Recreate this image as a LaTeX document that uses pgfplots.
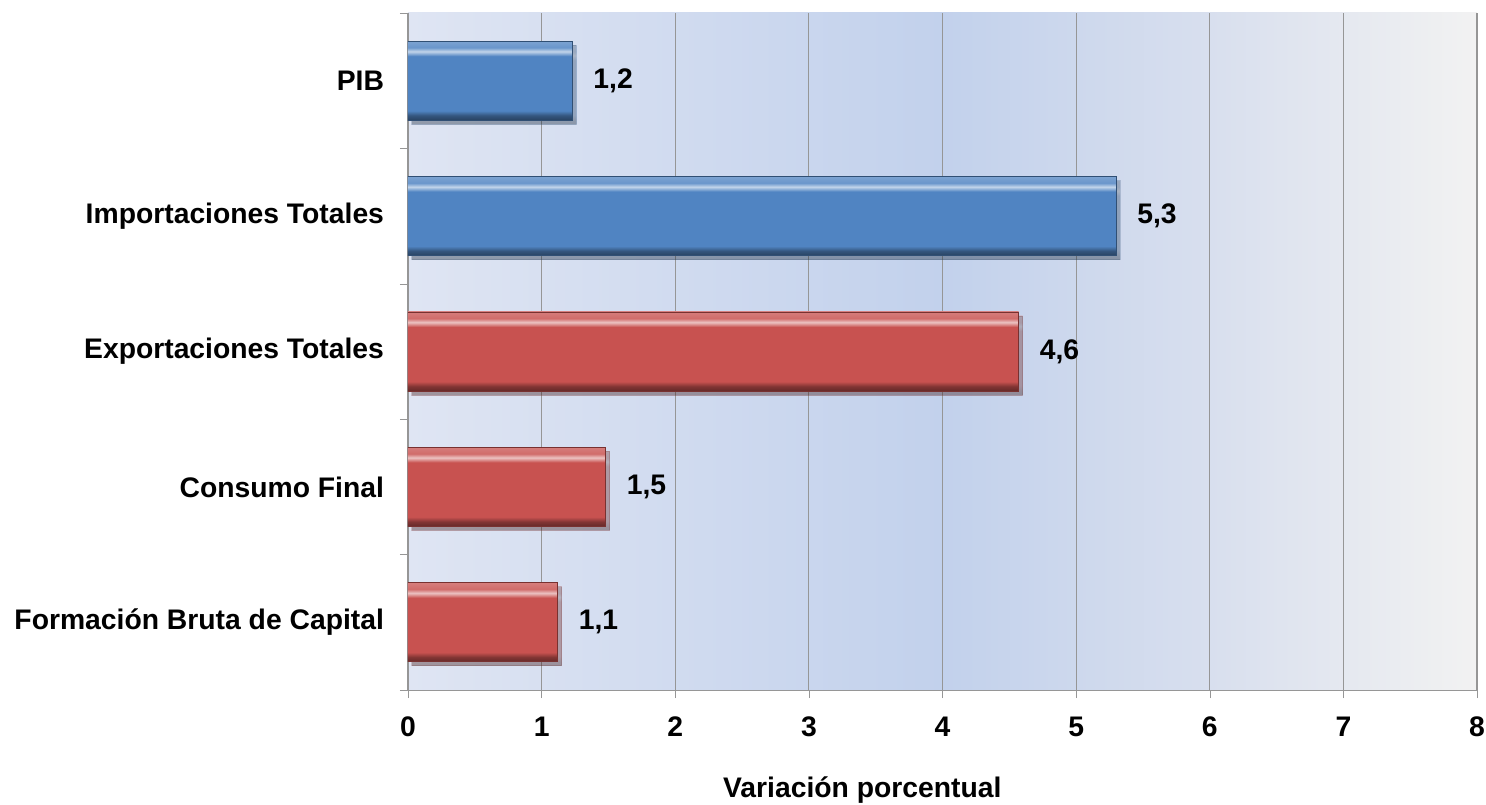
\documentclass[border=0pt]{standalone}
\usepackage{pgfplots}
\pgfplotsset{compat=1.18}
\usepackage{fontspec}
\setmainfont{Liberation Sans}

\definecolor{bmain}{RGB}{80,132,194}
\definecolor{rmain}{RGB}{200,82,80}
\definecolor{gridc}{RGB}{150,150,150}

% background: light blue, deepest around 4, fading to grey on the right
\pgfdeclarehorizontalshading{bgshade}{100bp}{%
  color(0bp)=(rgb,255:red,223;green,229;blue,243);
  color(25bp)=(rgb,255:red,223;green,229;blue,243);
  color(50bp)=(rgb,255:red,194;green,209;blue,236);
  color(62.5bp)=(rgb,255:red,216;green,223;blue,238);
  color(75bp)=(rgb,255:red,242;green,242;blue,242);
  color(100bp)=(rgb,255:red,242;green,242;blue,242)}

% bevel look for the bars (bottom dark, highlight near the top)
\pgfdeclareverticalshading{bluebar}{100bp}{%
  color(0bp)=(bmain!50!black);
  color(25bp)=(bmain!50!black);
  color(28bp)=(bmain!65!black);
  color(31bp)=(bmain);
  color(65.5bp)=(bmain);
  color(68.5bp)=(bmain!35!white);
  color(71bp)=(bmain!85!white);
  color(75bp)=(bmain!75!white);
  color(100bp)=(bmain!75!white)}
\pgfdeclareverticalshading{redbar}{100bp}{%
  color(0bp)=(rmain!50!black);
  color(25bp)=(rmain!50!black);
  color(28bp)=(rmain!65!black);
  color(31bp)=(rmain);
  color(65.5bp)=(rmain);
  color(68.5bp)=(rmain!35!white);
  color(71bp)=(rmain!85!white);
  color(75bp)=(rmain!75!white);
  color(100bp)=(rmain!75!white)}

\begin{document}
\begin{tikzpicture}
  \begin{axis}[
    scale only axis,
    width=534.5bp,
    height=338.5bp,
    xbar,
    bar width=39.5bp,
    bar shift=0pt,
    xmin=0, xmax=8,
    ymin=-0.5, ymax=4.5,
    xtick={0,...,8},
    ytick={0,...,4},
    yticklabels={Formación Bruta de Capital,Consumo Final,Exportaciones Totales,Importaciones Totales,PIB},
    font=\bfseries\fontsize{14.2}{16}\selectfont,
    /pgf/number format/assume math mode=true,
    /pgf/number format/use comma,
    axis lines=left,
    axis line style={-,gridc},
    xmajorgrids,
    major grid style={gridc,line width=0.6pt},
    tick align=outside,
    xtick style={gridc},
    major tick length=4bp,
    ytick style={draw=none},
    extra y ticks={-0.5,0.5,...,4.5},
    extra y tick labels={},
    extra y tick style={ytick style={draw=gridc}, major tick length=4bp, grid=none},
    yticklabel style={xshift=-4.5bp},
    xticklabel style={yshift=-6bp},
    xlabel={Variación porcentual},
    every axis x label/.style={at={(axis description cs:0.425,0)},anchor=center,yshift=-50bp},
    axis background/.style={shading=bgshade},
    nodes near coords,
    nodes near coords style={anchor=west,xshift=7bp,
      /pgf/number format/.cd,fixed,fixed zerofill,precision=1,use comma},
    every axis plot/.append style={line width=0.5pt,
      preaction={fill=black,opacity=0.22,transform canvas={xshift=2bp,yshift=-2bp}}},
    blue bar/.style={shading=bluebar,draw=bmain!60!black},
    red bar/.style={shading=redbar,draw=rmain!60!black},
  ]
    % one plot per bar so that each bar gets its own bevel shading
    \addplot[red bar]  coordinates {(1.12,0)};  % Formacion Bruta de Capital
    \addplot[red bar]  coordinates {(1.48,1)};  % Consumo Final
    \addplot[red bar]  coordinates {(4.57,2)};  % Exportaciones Totales
    \addplot[blue bar] coordinates {(5.30,3)};  % Importaciones Totales
    \addplot[blue bar] coordinates {(1.23,4)};  % PIB
  \end{axis}
  \pgfresetboundingbox
  \path[use as bounding box] (-204bp,-57.5bp) rectangle (539bp,345bp);
\end{tikzpicture}
\end{document}
